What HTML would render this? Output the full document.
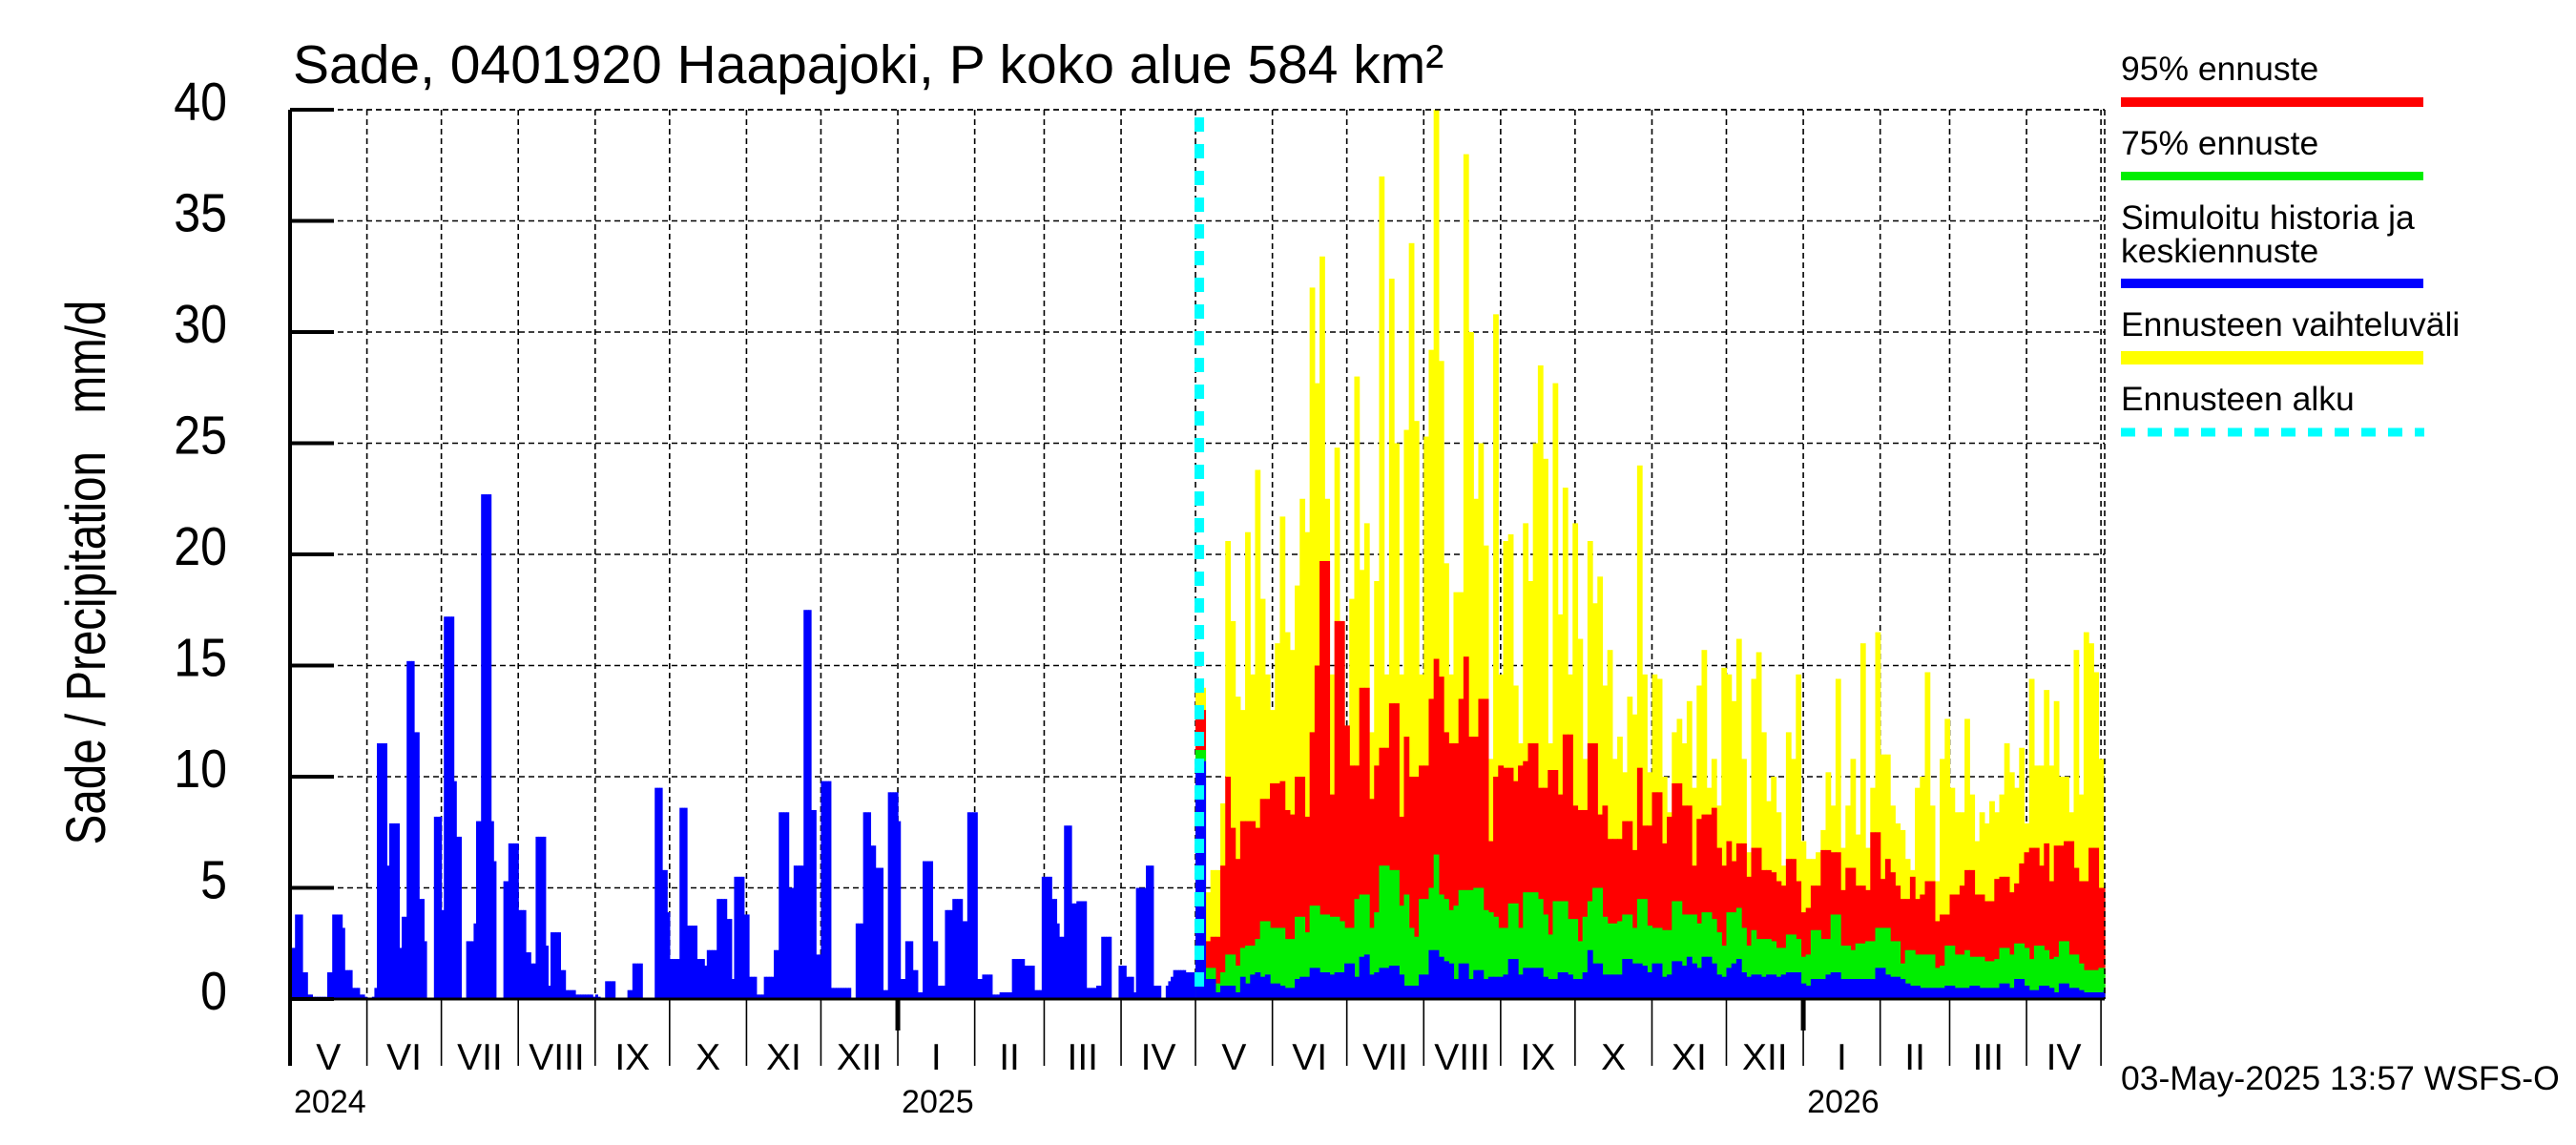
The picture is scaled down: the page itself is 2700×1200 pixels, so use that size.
<!DOCTYPE html>
<html><head><meta charset="utf-8"><style>
html,body{margin:0;padding:0;background:#fff;}
svg{display:block;font-family:"Liberation Sans",sans-serif;}
</style></head><body>
<svg id="chart" width="2700" height="1200" viewBox="0 0 2700 1200" xmlns="http://www.w3.org/2000/svg">
<rect x="0" y="0" width="2700" height="1200" fill="#fff"/>
<text x="307" y="87" font-size="57" fill="#000">Sade, 0401920 Haapajoki, P koko alue 584 km²</text>
<text transform="translate(110,600) rotate(-90) scale(0.82,1)" text-anchor="middle" font-size="58" fill="#000" style="white-space:pre" xml:space="preserve">Sade / Precipitation   mm/d</text>
<g id="plot"></g>
<g id="legend">
<text x="2223" y="84" font-size="35.5">95% ennuste</text>
<rect x="2223" y="102" width="317" height="10" fill="#ff0000"/>
<text x="2223" y="162" font-size="35.5">75% ennuste</text>
<rect x="2223" y="180" width="317" height="9" fill="#00ee00"/>
<text x="2223" y="240" font-size="35.5">Simuloitu historia ja</text>
<text x="2223" y="275" font-size="35.5">keskiennuste</text>
<rect x="2223" y="292" width="317" height="10" fill="#0000ff"/>
<text x="2223" y="352" font-size="35.5">Ennusteen vaihteluväli</text>
<rect x="2223" y="368" width="317" height="14" fill="#ffff00"/>
<text x="2223" y="430" font-size="35.5">Ennusteen alku</text>
<line x1="2223" y1="453" x2="2541" y2="453" stroke="#00ffff" stroke-width="9" stroke-dasharray="15,13"/>
</g>
<text x="2223" y="1142" font-size="35.5">03-May-2025 13:57 WSFS-O</text>
</svg>
<script>
const yTicks = [0,5,10,15,20,25,30,35,40];
const monthLabels = ["V","VI","VII","VIII","IX","X","XI","XII","I","II","III","IV","V","VI","VII","VIII","IX","X","XI","XII","I","II","III","IV"];
const monthDays = [31,30,31,31,30,31,30,31,31,28,31,30,31,30,31,31,30,31,30,31,31,28,31,30];
const yearLabels = ["2024","2025","2026"];
const yearStartMonth = [0,8,20];
const historyStartDay = 0;
const history = [2.3,2.3,3.8,3.8,3.8,1.2,1.2,0.2,0.2,0.1,
0.1,0.1,0.1,0.1,0.1,1.2,1.2,3.8,3.8,3.8,
3.8,3.2,1.3,1.3,1.3,0.5,0.5,0.5,0.2,0.2,
0.1,0,0,0.1,0.5,11.5,11.5,11.5,11.5,6,
7.9,7.9,7.9,7.9,2.3,3.7,3.7,15.2,15.2,15.2,
12,12,4.5,4.5,2.6,0,0,0,8.2,8.2,
8.2,4,17.2,17.2,17.2,17.2,9.8,7.3,7.3,0,
0,2.6,2.6,2.6,3.4,8,8,22.7,22.7,22.7,
22.7,8,6.2,0,0,0,5.3,5.3,7,7,
7,7,4,4,4,2.1,2.1,1.6,1.6,7.3,
7.3,7.3,7.3,2.4,0.6,3,3,3,3,1.3,
1.3,0.4,0.4,0.4,0.4,0.2,0.2,0.2,0.2,0.2,
0.2,0.2,0.1,0.2,0.1,0,0,0.8,0.8,0.8,
0.8,0,0,0,0,0,0.4,0.4,1.6,1.6,
1.6,1.6,0,0,0,0,0,9.5,9.5,9.5,
5.8,5.8,3.9,1.8,1.8,1.8,1.8,8.6,8.6,8.6,
3.3,3.3,3.3,3.3,1.8,1.8,1.8,1.5,2.2,2.2,
2.2,2.2,4.5,4.5,4.5,4.5,3.6,3.6,0.9,5.5,
5.5,5.5,5.5,3.8,3.8,1,1,1,0.2,0.2,
0.2,1,1,1,1,2.2,2.2,8.4,8.4,8.4,
8.4,5,5,6,6,6,6,17.5,17.5,17.5,
8.5,8.5,2,2,9.8,9.8,9.8,9.8,0.5,0.5,
0.5,0.5,0.5,0.5,0.5,0.5,0,0,3.4,3.4,
3.4,8.4,8.4,8.4,6.9,6.9,5.9,5.9,5.9,0.4,
0.4,9.3,9.3,9.3,9.3,8,0.9,0.9,2.6,2.6,
2.6,1.3,1.3,0.3,0.3,6.2,6.2,6.2,6.2,2.6,
2.6,0.6,0.6,0.6,4,4,4,4.5,4.5,4.5,
4.5,3.5,3.5,8.4,8.4,8.4,8.4,0.9,0.9,1.1,
1.1,1.1,1.1,0.2,0.2,0.2,0.3,0.3,0.3,0.3,
0.3,1.8,1.8,1.8,1.8,1.8,1.5,1.5,1.5,1.5,
0.4,0.4,0.4,5.5,5.5,5.5,5.5,4.5,4.5,3.4,
2.8,2.8,7.8,7.8,7.8,4.3,4.3,4.4,4.4,4.4,
4.4,0.5,0.5,0.5,0.5,0.6,0.6,2.8,2.8,2.8,
2.8,0,0,0,1.5,1.5,1.5,1,1,1,
0.3,5,5,5,5,6,6,6,0.6,0.6,
0.6,0,0,0.6,0.8,1,1.3,1.3,1.3,1.3,
1.3,1.2,1.2,1.2,1.2];
const forecastStartDay = 365;
const forecastBinDays = 2;
const fMax = [14,14,4.8,5.8,5.8,8.8,20.6,17,13.6,13,
21,14.6,23.8,18,14.6,13,16,21.7,16.5,15.7,
18.6,22.5,21,32,27.7,33.4,22.5,14.6,24.8,17,
12.3,18,28,19.3,21.4,12,18.8,37,14.6,32.4,
25,14.6,25.6,34,26,14.6,25.3,29.2,40,28.7,
19.6,14.6,18.3,18.3,38,30,22.5,25,20.4,10.8,
30.8,14.6,20.6,20.9,14.1,11.5,21.4,18.8,25,28.5,
24.3,11.5,27.7,17.3,23,14.6,21.4,16.2,10.8,20.6,
17.8,19,14.1,15.7,10.8,11.8,10.2,13.6,12.8,24,
14.6,10.2,14.6,14.4,10,8.4,12,12.6,11.5,13.4,
9.5,14.1,15.7,9.5,10.8,8.7,14.9,14.6,13.4,16.2,
10.8,6.6,14.4,15.6,12,8.9,10,8.4,6,12,
10.8,14.6,7.1,6.3,6.3,6.6,7.6,10.2,8.7,14.4,
6.8,8.7,10.8,7.4,16,6.8,9.5,16.5,11,11,
8.7,7.9,7.6,6.3,5.8,9.5,10,14.7,8.7,5.3,
10.8,12.6,9.5,8.4,8.4,12.6,9.2,7.1,8.4,7.9,
8.9,8.4,9.2,11.5,10.2,9.5,11.3,7.9,14.4,10.5,
10.5,13.9,10.5,13.4,10,10,8.4,15.7,9.2,16.5,
16,14.7,10.8,5];
const f95 = [13,13,2.6,2.8,2.8,6,10,7.7,6.3,8,
8,8,7.7,9,9,9.7,9.7,9.8,8.5,8.3,
10,10,8.2,12,15,19.7,19.7,9.2,17,17,
12.3,10.5,10.5,14,14,9,10.5,11.3,11.3,13.3,
13.3,8.2,11.8,10,10,10.5,10.5,13.5,15.3,14.5,
12,11.5,11.5,13.5,15.4,11.8,11.8,13.5,13.5,7.1,
10,10.5,10.4,10.4,9.8,10.5,10.7,11.5,11.5,9.5,
9.5,10.3,10.3,9.2,11.9,11.9,8.7,8.5,8.5,11.5,
11.5,8.3,8.7,7.2,7.2,7.2,8,8,6.7,10.4,
7.8,7.8,9.3,9.3,7,8.2,9.7,9.7,8.7,8.7,
6,8.1,8.3,8.3,8.6,6.8,6,7.1,6.2,7,
7,5.5,6.8,6.8,5.8,5.8,5.7,5.3,5.1,6.3,
6.3,5.3,3.9,4.1,5.1,5.1,6.7,6.7,6.6,6.6,
4.9,5.9,5.9,5.1,5.1,4.9,7.5,7.5,5.4,6.3,
5.7,5.1,4.5,4.5,5.5,4.5,4.7,5.3,5.3,3.5,
3.8,3.8,4.7,4.7,5.1,5.8,5.8,4.7,4.7,4.4,
4.4,5.4,5.5,5.5,4.8,5.2,6.1,6.6,6.8,6.8,
6,7,5.3,6.9,6.9,7.1,7.1,5.9,5.3,5.3,
6.8,6.8,5,5];
const f75 = [11.2,11.2,1.4,1.4,0.7,1.2,2,2,1.5,2.3,
2.4,2.4,2.7,3.5,3.5,3.2,3.2,3.2,2.7,2.7,
3.7,3.7,3,4.2,4.2,3.8,3.8,3.7,3.7,3.5,
3.2,3.2,4.5,4.7,4.7,3.2,3.9,6,6,5.8,
5.8,4.2,4.7,3.2,2.8,4.5,4.5,5,6.5,4.7,
4.5,4,4.2,4.9,4.9,4.9,5,5,4,3.9,
3.7,3.2,3.2,4.3,4.3,3.2,4.8,4.8,4.8,4.5,
3.8,2.9,4.4,4.4,4.4,3.6,3.6,2.6,3.7,4.4,
5,5,3.7,3.4,3.4,3.5,3.8,3.8,3.2,4.5,
4.5,3.3,3.2,3.2,3.1,3.1,4.4,4.4,3.8,3.8,
3.8,3.4,3.9,3.9,3.6,3,2.4,3.9,3.9,4.1,
3.2,2.4,3.1,2.7,2.7,2.7,2.6,2.3,2.3,2.9,
2.9,2.7,1.9,2,3.1,3.1,2.7,2.7,3.8,3.8,
2.4,2.4,2.2,2.5,2.5,2.6,2.6,3.2,3.2,3.2,
2.6,2.6,1.6,2.2,2.2,2,2,2,2,1.4,
1.5,2.4,2.4,2,2,2.2,1.9,1.9,1.9,1.7,
1.7,1.8,2.3,2.3,2,2.5,2.5,2.3,1.8,2.4,
2.4,2.2,1.8,1.9,2.6,2.6,2,2,1.6,1.3,
1.3,1.3,1.4,1.4];
const fMean = [10.7,10.7,0.9,0.9,0.3,0.6,0.6,0.6,0.3,1,
0.7,1.1,1.2,1,1.1,0.7,0.7,0.6,0.5,0.5,
0.9,1,1,1.4,1.4,1.2,1.2,1.1,1.2,1.2,
1.6,1.6,1,1.9,2,1.1,1.2,1.4,1.4,1.5,
1.5,1.1,0.6,0.6,0.6,1.1,1.1,2.2,2.2,1.9,
1.7,1.6,0.9,1.6,1.6,0.9,1.3,1.3,0.9,1,
1,1,1.1,1.8,1.8,1.1,1.4,1.4,1.4,1.4,
1,0.9,0.9,1.2,1.2,1.1,0.9,0.9,1.2,2.2,
1.6,1.6,1.1,1.1,1.1,1.1,1.8,1.8,1.6,1.6,
1.5,1.2,1.6,1.6,1,1.1,1.7,1.7,1.5,1.9,
1.6,1.4,1.9,1.9,1.6,1.1,1,1.4,1.6,1.8,
1.2,1,1.1,1.1,1,1.1,1.1,1,1.1,1.2,
1.2,1.2,0.7,0.6,0.9,0.9,0.9,1.1,1.2,1.2,
0.9,0.9,0.9,0.9,0.9,0.9,0.9,1.4,1.4,1.1,
1,1,0.9,0.7,0.6,0.6,0.5,0.5,0.5,0.5,
0.5,0.6,0.6,0.5,0.5,0.5,0.6,0.6,0.5,0.5,
0.5,0.5,0.7,0.7,0.5,0.9,0.9,0.6,0.4,0.4,
0.6,0.6,0.5,0.3,0.7,0.7,0.5,0.5,0.4,0.3,
0.3,0.3,0.3,0.4];

const NS = "http://www.w3.org/2000/svg";
const L = 304, R = 2206, T = 115, B = 1047;
const DAYS = 731.5;
function xs(d){ return L + (R - L) * d / DAYS; }
function ys(v){ return B - (B - T) * v / 40; }
const plot = document.getElementById("plot");
function mk(tag, attrs, parent){
  const e = document.createElementNS(NS, tag);
  for (const k in attrs) e.setAttribute(k, attrs[k]);
  (parent || plot).appendChild(e);
  return e;
}

const bounds = [0];
for (let i = 0; i < monthDays.length; i++) bounds.push(bounds[i] + monthDays[i]);

const grid = mk("g", {});


yTicks.forEach(v => {
  if (v === 0) return;
  const g = mk("line", {x1: L, x2: R, y1: ys(v), y2: ys(v), stroke: "#000", "stroke-width": 1.6, "stroke-dasharray": "6,4"}, grid);
  
  
});
bounds.forEach((d, i) => {
  if (i === 0) return;
  const x = Math.min(xs(d), R);
  const g = mk("line", {x1: x, x2: x, y1: T, y2: B, stroke: "#000", "stroke-width": 1.6, "stroke-dasharray": "6,4"}, grid);
  
  
});

const histG = mk("g", {});


history.forEach((v, i) => {
  if (v <= 0) return;
  const d = historyStartDay + i;
  const r = mk("rect", {x: xs(d), y: ys(v), width: xs(d + 1) - xs(d) + 0.6, height: B - ys(v), fill: "#0000ff"}, histG);
  
  
});

function layer(arr, color, name){
  const g = mk("g", {});
  
  
  arr.forEach((v, i) => {
    const d = forecastStartDay + i * forecastBinDays;
    const x0 = xs(d), x1 = Math.min(xs(d + forecastBinDays), R);
    if (x1 <= x0) return;
    const r = mk("rect", {x: x0, y: ys(v), width: x1 - x0 + 0.6, height: B - ys(v), fill: color}, g);
    
    
  });
}
layer(fMax, "#ffff00", "forecast-range");
layer(f95, "#ff0000", "forecast-95");
layer(f75, "#00ee00", "forecast-75");
layer(fMean, "#0000ff", "forecast-mean");

const ft = mk("line", {x1: L, x2: R, y1: T, y2: T, stroke: "#000", "stroke-width": 1.6, "stroke-dasharray": "6,4"});


const fr = mk("line", {x1: R, x2: R, y1: T, y2: B, stroke: "#000", "stroke-width": 1.6, "stroke-dasharray": "6,4"});



const fs = mk("line", {x1: xs(forecastStartDay) + 4, x2: xs(forecastStartDay) + 4, y1: 123, y2: 1040, stroke: "#00ffff", "stroke-width": 10, "stroke-dasharray": "15,13"});



const ya = mk("line", {x1: L, x2: L, y1: T, y2: 1117, stroke: "#000", "stroke-width": 4});


const xa = mk("line", {x1: L, x2: R, y1: B, y2: B, stroke: "#000", "stroke-width": 3});



yTicks.forEach(v => {
  const t = mk("line", {x1: L, x2: L + 46, y1: ys(v), y2: ys(v), stroke: "#000", "stroke-width": 4});
  
  
  const lb = mk("text", {x: 238 / 0.88, y: ys(v) + 11, "text-anchor": "end", "font-size": 57, fill: "#000", transform: "scale(0.88,1)"});
  lb.textContent = String(v);
  
  
});

bounds.forEach((d, i) => {
  const x = Math.min(xs(d), R);
  if (i > 0) {
    const t = mk("line", {x1: x, x2: x, y1: B, y2: 1117, stroke: "#000", "stroke-width": 1.6});
    
    
  }
  if (i < monthLabels.length) {
    const cx = (xs(d) + xs(bounds[i + 1])) / 2;
    const lb = mk("text", {x: cx, y: 1121, "text-anchor": "middle", "font-size": 39, fill: "#000"});
    lb.textContent = monthLabels[i];
    
    
  }
});
yearLabels.forEach((y, i) => {
  const x = xs(bounds[yearStartMonth[i]]);
  if (i > 0) {
    const t = mk("line", {x1: x, x2: x, y1: B, y2: 1080, stroke: "#000", "stroke-width": 5});
    
    
  }
  const lb = mk("text", {x: x + 4, y: 1166, "font-size": 34, fill: "#000"});
  lb.textContent = y;
  
  
});
</script>
</body></html>
